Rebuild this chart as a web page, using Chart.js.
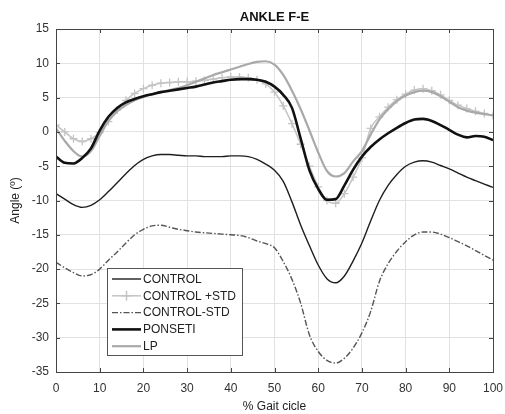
<!DOCTYPE html>
<html lang="en">
<head>
<meta charset="UTF-8" />
<title>ANKLE F-E</title>
<script src="https://cdn.jsdelivr.net/npm/chart.js"></script>
<style>
  html, body { margin: 0; padding: 0; background: #fff; }
  #wrap { width: 505px; height: 414px; }
</style>
</head>
<body>
<div id="wrap"><canvas id="ankleChart"></canvas></div>
<script>
  // % gait cycle samples
  const gait = [0, 2, 4, 6, 8, 10, 12, 14, 16, 18, 20, 22, 24, 26, 28, 30, 32, 34, 36, 38, 40,
    42, 44, 46, 48, 50, 52, 54, 56, 58, 60, 62, 64, 66, 68, 70, 72, 74, 76, 78, 80,
    82, 84, 86, 88, 90, 92, 94, 96, 98, 100];

  const control = [-9.0, -9.8, -10.6, -11.0, -10.7, -9.9, -8.7, -7.4, -6.1, -4.9, -4.0,
    -3.5, -3.3, -3.3, -3.4, -3.5, -3.5, -3.6, -3.6, -3.6, -3.5,
    -3.5, -3.6, -4.0, -4.7, -5.6, -7.2, -10.2, -13.6, -16.6, -19.4,
    -21.4, -22.0, -21.0, -18.8, -16.2, -13.0, -10.0, -7.8, -6.2, -5.0,
    -4.4, -4.2, -4.4, -4.9, -5.4, -6.0, -6.6, -7.1, -7.6, -8.1];

  const controlPlus = [1.0, 0.0, -1.0, -1.4, -1.0, -0.1, 1.5, 3.2, 4.6, 5.6, 6.3,
    6.8, 7.1, 7.2, 7.3, 7.3, 7.4, 7.5, 7.7, 7.9, 8.0,
    8.0, 7.9, 7.6, 7.0, 5.8, 3.8, 1.2, -1.8, -5.0, -8.0,
    -10.0, -10.4, -9.0, -6.6, -3.8, 0.5, 2.2, 3.6, 4.7, 5.5,
    6.1, 6.3, 6.0, 5.4, 4.6, 3.9, 3.4, 3.0, 2.7, 2.4];

  const controlMinus = [-19.0, -19.8, -20.5, -21.0, -20.8, -20.0, -18.7, -17.5, -16.2, -15.0, -14.2,
    -13.7, -13.6, -13.9, -14.2, -14.4, -14.6, -14.7, -14.8, -14.9, -15.0,
    -15.1, -15.4, -15.9, -16.3, -16.9, -18.9, -21.5, -25.0, -29.6, -32.0,
    -33.3, -33.7, -33.0, -31.5, -29.3, -26.2, -21.8, -19.2, -17.4, -16.0,
    -15.0, -14.6, -14.6, -14.9, -15.4, -16.0, -16.6, -17.3, -18.0, -18.7];

  const ponseti = [-3.6, -4.5, -4.6, -3.8, -2.4, 0.2, 2.2, 3.5, 4.3, 4.8, 5.2,
    5.5, 5.8, 6.0, 6.2, 6.4, 6.6, 6.9, 7.2, 7.4, 7.6,
    7.7, 7.7, 7.6, 7.3, 6.6, 5.4, 3.5, -1.0, -5.6, -8.3,
    -9.9, -9.8, -7.8, -5.5, -3.6, -2.2, -1.1, -0.2, 0.6, 1.3,
    1.8, 1.9, 1.6, 1.0, 0.3, -0.4, -0.8, -0.6, -0.7, -1.2];

  const lp = [0.5, -1.3, -2.8, -3.6, -2.8, -0.6, 1.6, 3.0, 3.9, 4.6, 5.1,
    5.5, 5.8, 6.1, 6.4, 6.8, 7.3, 7.8, 8.3, 8.7, 9.1,
    9.5, 9.9, 10.2, 10.3, 9.8, 8.3, 6.0, 3.3, 0.2, -3.0,
    -5.7, -6.5, -6.0, -4.3, -2.8, -0.4, 1.8, 3.3, 4.5, 5.3,
    5.8, 6.0, 5.8, 5.2, 4.4, 3.6, 3.1, 2.8, 2.6, 2.4];

  const seriesNames = ['CONTROL', 'CONTROL +STD', 'CONTROL-STD', 'PONSETI', 'LP'];
  const chartTitle = 'ANKLE F-E';

  const FONT = "'Liberation Sans', Arial, sans-serif";

  function pts(values) {
    return gait.map((g, i) => ({ x: g, y: values[i] }));
  }

  // frame around the plot + inner tick marks + title centred over the axes, matlab style
  const boxPlugin = {
    id: 'box',
    afterDraw(chart) {
      const { ctx, chartArea: a, scales } = chart;
      ctx.save();
      ctx.strokeStyle = '#444';
      ctx.lineWidth = 1;
      ctx.strokeRect(Math.round(a.left) + 0.5, Math.round(a.top) + 0.5,
        Math.round(a.right - a.left), Math.round(a.bottom - a.top));
      ctx.beginPath();
      scales.x.ticks.forEach(t => {
        const px = Math.round(scales.x.getPixelForValue(t.value)) + 0.5;
        ctx.moveTo(px, a.top); ctx.lineTo(px, a.top + 4);
        ctx.moveTo(px, a.bottom); ctx.lineTo(px, a.bottom - 4);
      });
      scales.y.ticks.forEach(t => {
        const py = Math.round(scales.y.getPixelForValue(t.value)) + 0.5;
        ctx.moveTo(a.left, py); ctx.lineTo(a.left + 4, py);
        ctx.moveTo(a.right, py); ctx.lineTo(a.right - 4, py);
      });
      ctx.stroke();

      ctx.fillStyle = '#111';
      ctx.font = 'bold 13px ' + FONT;
      ctx.textAlign = 'center';
      ctx.textBaseline = 'middle';
      ctx.fillText(chartTitle, (a.left + a.right) / 2, a.top - 12);
      ctx.restore();
    }
  };

  // legend box inside the plot, lower left
  const innerLegend = {
    id: 'innerLegend',
    afterDraw(chart) {
      const { ctx, chartArea: a } = chart;
      const x0 = a.left + 51, y0 = a.top + 239, w = 135, h = 87;
      ctx.save();
      ctx.fillStyle = '#fff';
      ctx.fillRect(x0, y0, w, h);
      ctx.strokeStyle = '#555';
      ctx.lineWidth = 1;
      ctx.strokeRect(x0 + 0.5, y0 + 0.5, w, h);
      ctx.font = '12px ' + FONT;
      ctx.textBaseline = 'middle';
      chart.data.datasets.forEach((ds, i) => {
        const y = y0 + 11 + i * 16.8;
        ctx.beginPath();
        ctx.strokeStyle = ds.borderColor;
        ctx.lineWidth = ds.borderWidth;
        ctx.setLineDash(ds.borderDash || []);
        ctx.moveTo(x0 + 5, y);
        ctx.lineTo(x0 + 34, y);
        ctx.stroke();
        ctx.setLineDash([]);
        if (ds.pointRadius > 0) {
          ctx.strokeStyle = ds.pointBorderColor;
          ctx.lineWidth = 1.5;
          ctx.beginPath();
          ctx.moveTo(x0 + 19.5, y - 5); ctx.lineTo(x0 + 19.5, y + 5);
          ctx.moveTo(x0 + 14.5, y); ctx.lineTo(x0 + 24.5, y);
          ctx.stroke();
        }
        ctx.fillStyle = '#222';
        ctx.fillText(ds.label, x0 + 36, y + 0.5);
      });
      ctx.restore();
    }
  };

  new Chart(document.getElementById('ankleChart'), {
    type: 'line',
    data: {
      datasets: [
        {
          label: seriesNames[0], data: pts(control), order: 1,
          borderColor: '#1e1e1e', borderWidth: 1.4, pointRadius: 0
        },
        {
          label: seriesNames[1], data: pts(controlPlus), order: 4,
          borderColor: '#c4c4c4', borderWidth: 1.5,
          pointStyle: 'cross', pointRadius: 4, pointBorderWidth: 1.3,
          pointBorderColor: '#c4c4c4', pointBackgroundColor: '#c4c4c4'
        },
        {
          label: seriesNames[2], data: pts(controlMinus), order: 3,
          borderColor: '#555', borderWidth: 1.4, borderDash: [6, 2, 1.5, 2], pointRadius: 0
        },
        {
          label: seriesNames[3], data: pts(ponseti), order: 0,
          borderColor: '#111', borderWidth: 2.6, pointRadius: 0
        },
        {
          label: seriesNames[4], data: pts(lp), order: 2,
          borderColor: '#a9a9a9', borderWidth: 2.2, pointRadius: 0
        }
      ]
    },
    options: {
      responsive: true,
      maintainAspectRatio: false,
      animation: false,
      cubicInterpolationMode: 'monotone',
      layout: { padding: { left: 0, right: 12, top: 29, bottom: 0 } },
      plugins: {
        legend: { display: false },
        tooltip: { enabled: false },
        title: { display: false }
      },
      scales: {
        x: {
          type: 'linear',
          min: 0, max: 100,
          ticks: { stepSize: 10, color: '#333', padding: 9, font: { family: FONT, size: 12 } },
          grid: { color: '#e2e2e2', drawTicks: false },
          border: { display: false },
          title: {
            display: true, text: '% Gait cicle', color: '#222',
            font: { family: FONT, size: 12 }, padding: { top: 2, bottom: 0 }
          },
          afterFit(scale) {
            scale.height = 42;
            scale.paddingLeft = 0;
            scale.paddingRight = 0;
          }
        },
        y: {
          min: -35, max: 15,
          ticks: { stepSize: 5, color: '#333', padding: 7, font: { family: FONT, size: 12 } },
          grid: { color: '#e2e2e2', drawTicks: false },
          border: { display: false },
          title: {
            display: true, text: 'Angle (º)', color: '#222',
            font: { family: FONT, size: 12 }, padding: { top: 8, bottom: 0 }
          },
          afterFit(scale) { scale.width = 56; }
        }
      }
    },
    plugins: [boxPlugin, innerLegend]
  });
</script>
</body>
</html>
